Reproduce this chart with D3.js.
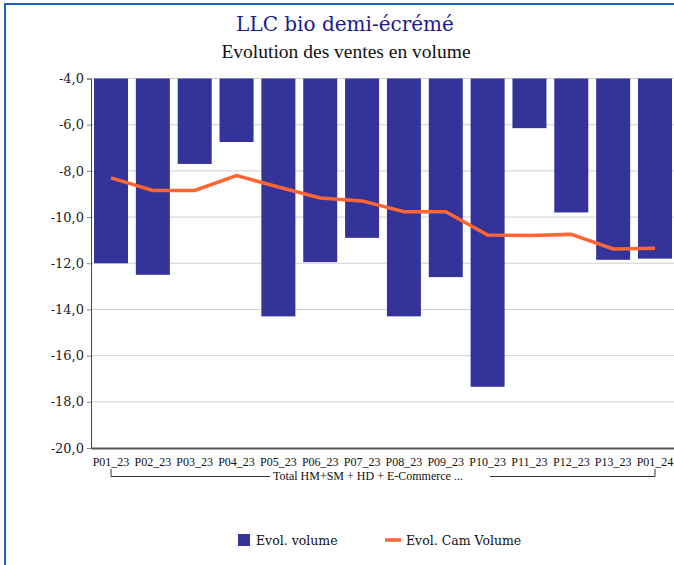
<!DOCTYPE html>
<html>
<head>
<meta charset="utf-8">
<script src="https://cdn.jsdelivr.net/npm/d3@7"></script>
<style>
  body { margin: 0; background: #fff; }
  svg { display: block; }
</style>
</head>
<body>
<svg width="674" height="565"></svg>
<script>
let categories = ['P01_23', 'P02_23', 'P03_23', 'P04_23', 'P05_23', 'P06_23', 'P07_23',
  'P08_23', 'P09_23', 'P10_23', 'P11_23', 'P12_23', 'P13_23', 'P01_24']
let volume = [-12.0, -12.5, -7.7, -6.75, -14.3, -11.95, -10.9, -14.3, -12.6, -17.35, -6.15, -9.8, -11.85, -11.8]
let camVolume = [-8.3, -8.85, -8.85, -8.2, -8.7, -9.17, -9.3, -9.77, -9.77, -10.78, -10.8, -10.75, -11.38, -11.35]
let yTicks = [-20, -18, -16, -14, -12, -10, -8, -6, -4]
let groupLabel = 'Total HM+SM + HD + E-Commerce ...'
let seriesNames = ['Evol. volume', 'Evol. Cam Volume']

let barColor = '#333399'
let lineColor = '#ff6633'
let fmt = d => d3.format('.1f')(d).replace('.', ',').replace('−', '-')

let svg = d3.select('svg')

// cadre
svg.append('rect')
  .attr('x', 5).attr('y', 4)
  .attr('width', 720).attr('height', 600)
  .attr('fill', 'none')
  .attr('stroke', '#1f63b6')
  .attr('stroke-width', 2)

svg.append('text')
  .attr('x', 345).attr('y', 31)
  .attr('text-anchor', 'middle')
  .style('font-family', 'DejaVu Serif')
  .style('font-size', '20px')
  .attr('fill', '#1c1c8c')
  .text('LLC bio demi-écrémé')

svg.append('text')
  .attr('x', 346).attr('y', 58)
  .attr('text-anchor', 'middle')
  .style('font-family', 'Liberation Serif')
  .style('font-size', '19.5px')
  .attr('fill', '#111')
  .text('Evolution des ventes en volume')

let x = d3.scaleBand()
  .domain(categories)
  .range([91, 675])
  .paddingInner(0.1876)
  .paddingOuter(0.072)

let y = d3.scaleLinear()
  .domain([-20, -4])
  .range([448, 78.5])

// grille
svg.append('g')
  .selectAll('line')
  .data(yTicks.slice(1))
  .enter()
  .append('line')
  .attr('x1', 91).attr('x2', 674)
  .attr('y1', d => y(d)).attr('y2', d => y(d))
  .attr('stroke', '#cfcfcf')
  .attr('stroke-width', 1)

let yAxis = d3.axisLeft(y)
  .tickValues(yTicks)
  .tickFormat(fmt)
  .tickSize(4)
  .tickPadding(3)

let gy = svg.append('g')
  .attr('transform', 'translate(91, 0)')
  .attr('font-family', null)
  .call(yAxis)
gy.select('.domain').attr('stroke', '#444')
gy.selectAll('.tick line').attr('stroke', '#888')
gy.selectAll('.tick text')
  .style('font-family', 'DejaVu Serif')
  .style('font-size', '13px')
  .attr('fill', '#222')

// barres
svg.append('g')
  .selectAll('rect')
  .data(volume)
  .enter()
  .append('rect')
  .attr('x', (d, i) => x(categories[i]))
  .attr('y', y(-4))
  .attr('width', x.bandwidth())
  .attr('height', d => y(d) - y(-4))
  .attr('fill', barColor)

// axe x
let xAxis = d3.axisBottom(x).tickSize(0).tickPadding(9)
let gx = svg.append('g')
  .attr('transform', 'translate(0, 448)')
  .call(xAxis)
gx.select('.domain').attr('stroke', '#555').attr('stroke-width', 2)
gx.selectAll('.tick text')
  .style('font-family', 'Liberation Serif')
  .style('font-size', '12px')
  .attr('fill', '#111')

// courbe
let line = d3.line()
  .x((d, i) => x(categories[i]) + x.bandwidth() / 2)
  .y(d => y(d))

svg.append('path')
  .datum(camVolume)
  .attr('d', line)
  .attr('fill', 'none')
  .attr('stroke', lineColor)
  .attr('stroke-width', 3.5)

// groupe
let gx0 = x(categories[0]) + x.bandwidth() / 2
let gx1 = x(categories[categories.length - 1]) + x.bandwidth() / 2
let gMid = 368
let grp = svg.append('g')
grp.append('path')
  .attr('d', 'M' + gx0 + ',469V476.5H' + (gMid - 98))
  .attr('fill', 'none').attr('stroke', '#333')
grp.append('path')
  .attr('d', 'M' + (gMid + 122) + ',476.5H' + gx1 + 'V469')
  .attr('fill', 'none').attr('stroke', '#333')
grp.append('text')
  .attr('x', gMid).attr('y', 480)
  .attr('text-anchor', 'middle')
  .style('font-family', 'Liberation Serif')
  .style('font-size', '12px')
  .attr('fill', '#111')
  .text(groupLabel)

// légende
let leg = svg.append('g')
leg.append('rect')
  .attr('x', 238).attr('y', 534)
  .attr('width', 12).attr('height', 12)
  .attr('fill', barColor)
leg.append('text')
  .attr('x', 256).attr('y', 545)
  .style('font-family', 'DejaVu Serif')
  .style('font-size', '12.5px')
  .attr('fill', '#111')
  .text(seriesNames[0])
leg.append('line')
  .attr('x1', 385).attr('x2', 401)
  .attr('y1', 540).attr('y2', 540)
  .attr('stroke', lineColor)
  .attr('stroke-width', 3.5)
leg.append('text')
  .attr('x', 406).attr('y', 545)
  .style('font-family', 'DejaVu Serif')
  .style('font-size', '12.5px')
  .attr('fill', '#111')
  .text(seriesNames[1])
</script>
</body>
</html>
